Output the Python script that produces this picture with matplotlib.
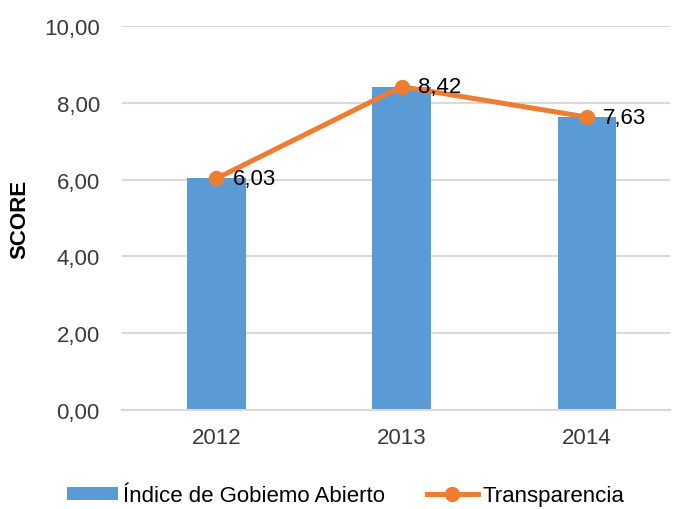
import matplotlib
matplotlib.use("Agg")
import matplotlib.pyplot as plt
import numpy as np

plt.rcParams['font.family'] = ['Liberation Sans', 'DejaVu Sans']

years = ['2012', '2013', '2014']
indice = [6.03, 8.42, 7.63]
transparencia = [6.03, 8.42, 7.63]
yticks = [0, 2, 4, 6, 8, 10]

fig = plt.figure(figsize=(6.73, 5.10), dpi=100)
ax = fig.add_axes([122 / 673, 1 - 411 / 510, 548 / 673, 384 / 510])

x = np.arange(len(years))
bars = ax.bar(x, indice, width=0.315, color='#5b9bd5', zorder=2,
              label='Índice de Gobiemo Abierto')
line, = ax.plot(x, transparencia, color='#ed7d31', lw=3.6, marker='o', ms=10,
                zorder=3, label='Transparencia')
for xi, v in zip(x, transparencia):
    ax.text(xi + 0.09, v, f'{v:.2f}'.replace('.', ','), fontsize=16,
            va='center', ha='left', zorder=4)

ax.set_xlim(-0.51, 2.45)
ax.set_ylim(0, 10)
ax.set_yticks(yticks)
ax.set_yticklabels([f'{t:.2f}'.replace('.', ',') for t in yticks])
ax.set_xticks(x)
ax.set_xticklabels(years)
ax.grid(axis='y', color='#d9d9d9', lw=1.5, zorder=0)
for s in ['top', 'right', 'left']:
    ax.spines[s].set_visible(False)
ax.spines['bottom'].set_color('#d9d9d9')
ax.spines['bottom'].set_linewidth(1.5)
ax.tick_params(axis='y', length=0, pad=16, labelsize=16, labelcolor='#3a3a3a')
ax.tick_params(axis='x', length=0, pad=12, labelsize=16, labelcolor='#3a3a3a')
ax.set_ylabel('SCORE', fontsize=16, fontweight='bold', labelpad=10)

fig.legend(handles=[bars, line], loc='center left',
           bbox_to_anchor=(67 / 673, 1 - 497 / 510), ncol=2,
           frameon=False, fontsize=16, handlelength=2.3, handleheight=0.55,
           columnspacing=1.9, handletextpad=0.2, borderpad=0, borderaxespad=0)

fig.savefig('out.png', dpi=100)
